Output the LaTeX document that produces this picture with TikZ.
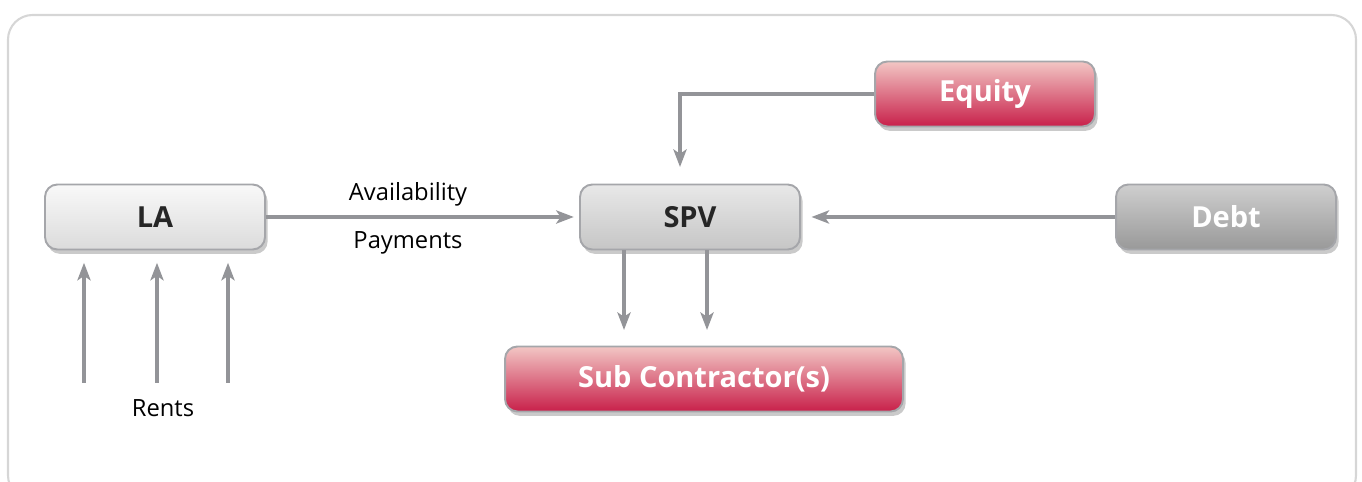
\documentclass[tikz,border=0pt]{standalone}
\usepackage{fontspec}
\setmainfont{Open Sans}
\usetikzlibrary{arrows.meta,shadows}

\definecolor{flowgray}{HTML}{939498}
\definecolor{edgegray}{HTML}{A5A6AA}
\definecolor{framegray}{HTML}{D6D6D6}
\definecolor{pinktop}{HTML}{F2C6C4}
\definecolor{crimson}{HTML}{C8204A}

\tikzset{
  block/.style={rounded corners=7pt, draw=edgegray, line width=1.1pt,
    minimum width=4.4cm, minimum height=1.3cm, font=\fontsize{16.5}{19}\selectfont\bfseries,
    drop shadow={shadow xshift=1.5pt, shadow yshift=-2.5pt, opacity=0.35, fill=black!60}},
  lightbox/.style={block, top color=white!95!gray, bottom color=gray!28, text=black!85},
  midbox/.style={block, top color=gray!18, bottom color=gray!45, text=black!85},
  redbox/.style={block, top color=pinktop, bottom color=crimson, text=white},
  darkbox/.style={block, top color=gray!38, bottom color=gray!80, text=white},
  flow/.style={draw=flowgray, line width=2pt, -{Stealth[length=10pt, width=7.5pt, inset=2.5pt]}},
  lbl/.style={font=\fontsize{13.5}{16}\selectfont}
}

\begin{document}
\begin{tikzpicture}[x=0.02cm, y=-0.02cm]
\useasboundingbox (0,0) rectangle (1362,482);
% outer frame
\draw[framegray, line width=1.2pt, rounded corners=14pt] (8,15) rectangle (1356,500);

% boxes
\node[lightbox] (la) at (155,217) {LA};
\node[midbox] (spv) at (690,217) {SPV};
\node[redbox] (equity) at (985,94) {Equity};
\node[darkbox] (debt) at (1226,217) {Debt};
\node[redbox, minimum width=7.96cm] (sub) at (704,379) {Sub Contractor(s)};

% loose ends
\coordinate (eqin) at (680,167);
\coordinate (sc1) at (624,330);
\coordinate (sc2) at (707,330);
\coordinate (r1) at (84,383);
\coordinate (r2) at (157,383);
\coordinate (r3) at (228,383);

% flows
\draw[flow, shorten >=3pt] (la.east) -- (spv.west);
\node[lbl] (avail) at (408,194) {Availability};
\node[lbl] (pay) at (408,243) {Payments};
\draw[flow] (equity.west) -| (eqin);
\draw[flow, shorten >=6pt] (debt.west) -- (spv.east);
\draw[flow] (spv.south -| sc1) -- (sc1);
\draw[flow] (spv.south -| sc2) -- (sc2);
\draw[flow, shorten >=7pt] (r1) -- (r1 |- la.south);
\draw[flow, shorten >=7pt] (r2) -- (r2 |- la.south);
\draw[flow, shorten >=7pt] (r3) -- (r3 |- la.south);
\node[lbl] (rents) at (163,408) {Rents};
\end{tikzpicture}
\end{document}
